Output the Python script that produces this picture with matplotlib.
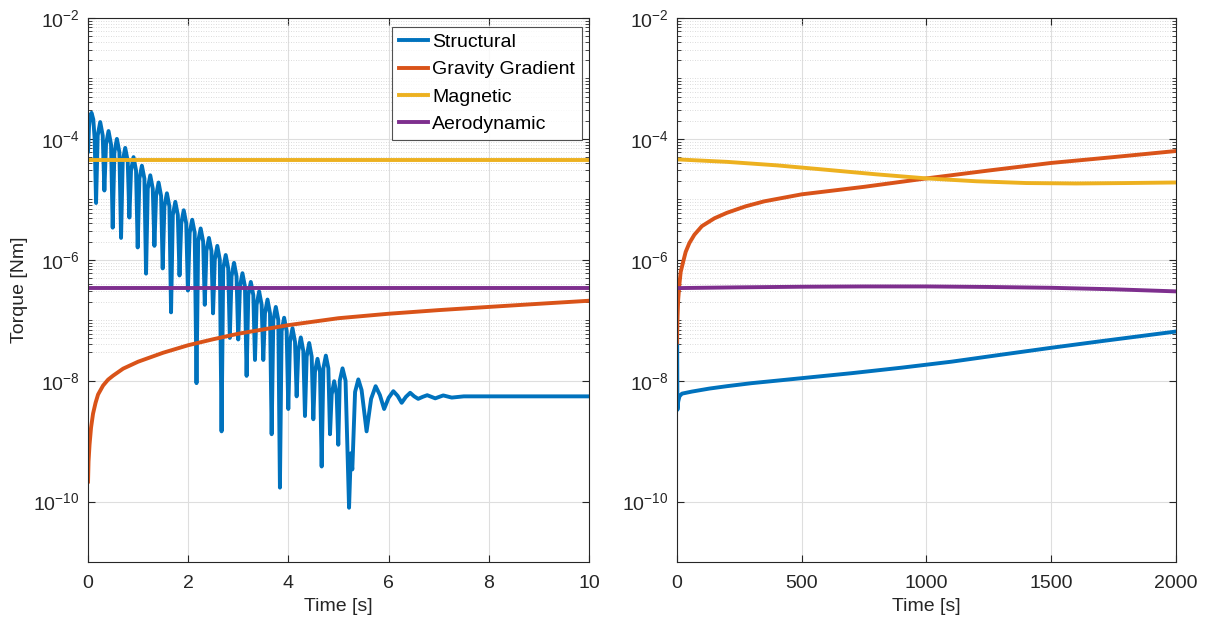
"""Torque components on a log scale: start-up transient (0-10 s) and long run (0-2000 s)."""

import matplotlib

matplotlib.use("Agg")
import matplotlib.pyplot as plt
import numpy as np
from matplotlib.ticker import FixedLocator, LogFormatterMathtext, NullFormatter

# ---- left panel: first 10 seconds ------------------------------------------
# structural torque, read arch by arch (shoulder, peak, shoulder, dip)
t_struct_short = [
    0.000, 0.020, 0.040, 0.070, 0.105, 0.132, 0.160,
    0.193, 0.243, 0.293, 0.326,
    0.359, 0.409, 0.459, 0.492,
    0.526, 0.576, 0.626, 0.659,
    0.692, 0.742, 0.792, 0.825,
    0.858, 0.908, 0.958, 0.991,
    1.025, 1.075, 1.125, 1.158,
    1.192, 1.242, 1.292, 1.325,
    1.358, 1.408, 1.458, 1.490,
    1.524, 1.574, 1.624, 1.657,
    1.692, 1.742, 1.792, 1.826,
    1.860, 1.910, 1.960, 1.993,
    2.029, 2.079, 2.129, 2.165,
    2.198, 2.248, 2.298, 2.330,
    2.363, 2.413, 2.463, 2.495,
    2.530, 2.580, 2.630, 2.665,
    2.698, 2.748, 2.798, 2.830,
    2.864, 2.914, 2.964, 2.998,
    3.032, 3.082, 3.132, 3.165,
    3.199, 3.249, 3.299, 3.332,
    3.365, 3.415, 3.465, 3.498,
    3.532, 3.582, 3.632, 3.665,
    3.698, 3.748, 3.798, 3.830,
    3.864, 3.914, 3.964, 3.997,
    4.031, 4.081, 4.131, 4.164,
    4.197, 4.247, 4.297, 4.330,
    4.364, 4.414, 4.464, 4.497,
    4.530, 4.580, 4.630, 4.663,
    4.697, 4.747, 4.797, 4.830,
    4.863, 4.913, 4.963, 4.995,
    5.025, 5.080, 5.140, 5.210,
    5.245, 5.275, 5.330, 5.395, 5.460, 5.560, 5.650, 5.740, 5.825, 5.910,
    6.000, 6.094, 6.180, 6.260, 6.345, 6.430, 6.510, 6.590, 6.680, 6.770,
    6.930, 7.090, 7.260, 7.500, 10.000,
]
structural_short = [
    6.2e-5, 1.6e-4, 2.4e-4, 2.7e-4, 2.1e-4, 1.0e-4, 8.7e-6,
    1.14e-4, 1.9e-4, 1.14e-4, 1.4e-5,
    8.1e-5, 1.35e-4, 8.1e-5, 3.4e-6,
    6.0e-5, 1.0e-4, 6.0e-5, 2.3e-6,
    4.3e-5, 7.1e-5, 4.3e-5, 5.0e-6,
    3.0e-5, 5.0e-5, 3.0e-5, 1.6e-6,
    2.2e-5, 3.6e-5, 2.2e-5, 5.9e-7,
    1.5e-5, 2.5e-5, 1.5e-5, 1.7e-6,
    1.14e-5, 1.9e-5, 1.14e-5, 7.2e-7,
    7.6e-6, 1.26e-5, 7.6e-6, 1.35e-7,
    5.5e-6, 9.1e-6, 5.5e-6, 5.5e-7,
    4.0e-6, 6.6e-6, 4.0e-6, 3.1e-7,
    2.8e-6, 4.6e-6, 2.8e-6, 9.1e-9,
    2.0e-6, 3.3e-6, 2.0e-6, 1.8e-7,
    1.4e-6, 2.3e-6, 1.4e-6, 1.3e-7,
    1.0e-6, 1.7e-6, 1.0e-6, 1.45e-9,
    7.2e-7, 1.2e-6, 7.2e-7, 5.1e-8,
    5.3e-7, 8.9e-7, 5.3e-7, 4.8e-8,
    3.6e-7, 6.0e-7, 3.6e-7, 1.2e-8,
    2.6e-7, 4.3e-7, 2.6e-7, 2.2e-8,
    1.8e-7, 3.0e-7, 1.8e-7, 2.2e-8,
    1.3e-7, 2.2e-7, 1.3e-7, 1.3e-9,
    1.0e-7, 1.66e-7, 1.0e-7, 1.7e-10,
    6.6e-8, 1.1e-7, 6.6e-8, 3.4e-9,
    4.4e-8, 7.4e-8, 4.4e-8, 5.5e-9,
    3.1e-8, 5.2e-8, 3.1e-8, 2.6e-9,
    2.5e-8, 4.2e-8, 2.5e-8, 2.3e-9,
    1.4e-8, 2.3e-8, 1.4e-8, 3.8e-10,
    1.6e-8, 2.6e-8, 1.6e-8, 1.3e-9,
    5.9e-9, 9.8e-9, 5.9e-9, 8.7e-10,
    1.0e-8, 1.6e-8, 1.0e-8, 7.9e-11,
    6.3e-10, 3.4e-10, 6.5e-9, 1.05e-8, 7.0e-9, 1.45e-9, 5.0e-9, 8.1e-9, 5.8e-9, 3.4e-9,
    5.2e-9, 6.7e-9, 5.6e-9, 4.3e-9, 5.4e-9, 6.3e-9, 5.5e-9, 5.0e-9, 5.4e-9, 5.75e-9,
    5.1e-9, 5.7e-9, 5.25e-9, 5.5e-9, 5.5e-9,
]

t_grav_short = [0.0, 0.01, 0.03, 0.06, 0.1, 0.15, 0.2, 0.3, 0.4, 0.5, 0.7, 1.0, 1.5,
                2.0, 2.5, 3.0, 4.0, 5.0, 6.0, 7.0, 8.0, 9.0, 10.0]
gravity_short = [2.14e-10, 4.6e-10, 8.7e-10, 1.67e-9, 2.85e-9, 4.3e-9, 5.9e-9, 8.3e-9,
                 1.04e-8, 1.21e-8, 1.58e-8, 2.06e-8, 2.9e-8, 3.86e-8, 4.85e-8, 5.98e-8,
                 8.3e-8, 1.08e-7, 1.28e-7, 1.47e-7, 1.66e-7, 1.87e-7, 2.1e-7]

t_const_short = [0.0, 10.0]
magnetic_short = [4.5e-5, 4.5e-5]
aero_short = [3.4e-7, 3.4e-7]

# ---- right panel: 2000 seconds ---------------------------------------------
t_struct_long = [0, 2, 5, 10, 20, 60, 130, 200, 300, 400, 500, 700, 900, 1100,
                 1300, 1500, 1700, 1900, 2000]
structural_long = [3.0e-7, 3.3e-9, 4.5e-9, 5.5e-9, 6.1e-9, 6.6e-9, 7.4e-9, 8.1e-9,
                   9.1e-9, 1.0e-8, 1.1e-8, 1.33e-8, 1.64e-8, 2.06e-8, 2.69e-8,
                   3.5e-8, 4.5e-8, 5.75e-8, 6.5e-8]

t_grav_long = [0, 2, 5, 10, 15, 25, 35, 50, 70, 100, 150, 200, 275, 350, 500, 750,
               1000, 1250, 1500, 1750, 2000]
gravity_long = [4.3e-8, 1.0e-7, 2.2e-7, 4.0e-7, 6.3e-7, 9.3e-7, 1.35e-6, 1.9e-6, 2.6e-6,
                3.6e-6, 4.85e-6, 5.98e-6, 7.66e-6, 9.27e-6, 1.21e-5, 1.61e-5, 2.22e-5,
                3.0e-5, 4.0e-5, 5.0e-5, 6.3e-5]

t_mag_long = [0, 200, 400, 600, 800, 1000, 1200, 1400, 1600, 1800, 2000]
magnetic_long = [4.58e-5, 4.17e-5, 3.65e-5, 3.08e-5, 2.59e-5, 2.22e-5, 1.99e-5, 1.86e-5,
                 1.83e-5, 1.86e-5, 1.9e-5]

t_aero_long = [0, 250, 500, 750, 1000, 1250, 1500, 1750, 2000]
aero_long = [3.4e-7, 3.5e-7, 3.58e-7, 3.62e-7, 3.62e-7, 3.55e-7, 3.44e-7, 3.25e-7, 3.0e-7]

labels = ["Structural", "Gravity Gradient", "Magnetic", "Aerodynamic"]
colors = ["#0072BD", "#D95319", "#EDB120", "#7E2F8E"]

plt.rcParams["font.family"] = ["Liberation Sans", "DejaVu Sans"]
plt.rcParams["mathtext.default"] = "regular"
TXT = "#262626"
FS = 14


def style_axes(ax, xmax, xticks):
    ax.set_yscale("log")
    ax.set_ylim(1e-11, 1e-2)
    ax.set_xlim(0, xmax)
    ax.set_xticks(xticks)
    majors = [1e-10, 1e-8, 1e-6, 1e-4, 1e-2]
    ax.yaxis.set_major_locator(FixedLocator(majors))
    ax.yaxis.set_major_formatter(LogFormatterMathtext())
    minors = [k * 10.0 ** e for e in range(-11, -2) for k in range(1, 10)]
    minors = [m for m in minors if not any(np.isclose(m, M) for M in majors)]
    ax.yaxis.set_minor_locator(FixedLocator(minors))
    ax.yaxis.set_minor_formatter(NullFormatter())
    ax.grid(True, which="major", color="#dedede", linewidth=0.8)
    ax.grid(True, which="minor", axis="y", color="#d0d0d0", linestyle=(0, (1, 2)), linewidth=0.6)
    ax.set_axisbelow(True)
    ax.tick_params(which="both", direction="in", top=True, right=True, colors=TXT,
                   labelsize=FS, labelcolor=TXT)
    ax.tick_params(axis="y", pad=6)
    ax.tick_params(axis="x", pad=9)
    ax.tick_params(which="major", length=5)
    ax.tick_params(which="minor", length=3)
    for s in ax.spines.values():
        s.set_color(TXT)
        s.set_linewidth(0.8)
    ax.set_xlabel("Time [s]", fontsize=FS, color=TXT, labelpad=5)


fig = plt.figure(figsize=(12.11, 6.25), dpi=100)
ax1 = fig.add_axes([0.0727, 0.1008, 0.4137, 0.8704])
ax2 = fig.add_axes([0.5590, 0.1008, 0.4121, 0.8704])

lw = 2.8
ax1.plot(t_struct_short, structural_short, color=colors[0], lw=lw, label=labels[0])
ax1.plot(t_grav_short, gravity_short, color=colors[1], lw=lw, label=labels[1])
ax1.plot(t_const_short, magnetic_short, color=colors[2], lw=lw, label=labels[2])
ax1.plot(t_const_short, aero_short, color=colors[3], lw=lw, label=labels[3])
style_axes(ax1, 10, [0, 2, 4, 6, 8, 10])
ax1.set_ylabel("Torque [Nm]", fontsize=FS, color=TXT, labelpad=4)

leg = ax1.legend(loc="upper right", bbox_to_anchor=(0.986, 0.984), fontsize=FS,
                 frameon=True, fancybox=False, edgecolor=TXT, handlelength=1.5,
                 handletextpad=0.2, borderpad=0.35, labelspacing=0.5, borderaxespad=0)
leg.get_frame().set_linewidth(0.8)

ax2.plot(t_struct_long, structural_long, color=colors[0], lw=lw)
ax2.plot(t_grav_long, gravity_long, color=colors[1], lw=lw)
ax2.plot(t_mag_long, magnetic_long, color=colors[2], lw=lw)
ax2.plot(t_aero_long, aero_long, color=colors[3], lw=lw)
style_axes(ax2, 2000, [0, 500, 1000, 1500, 2000])

fig.savefig("out.png", dpi=100)
